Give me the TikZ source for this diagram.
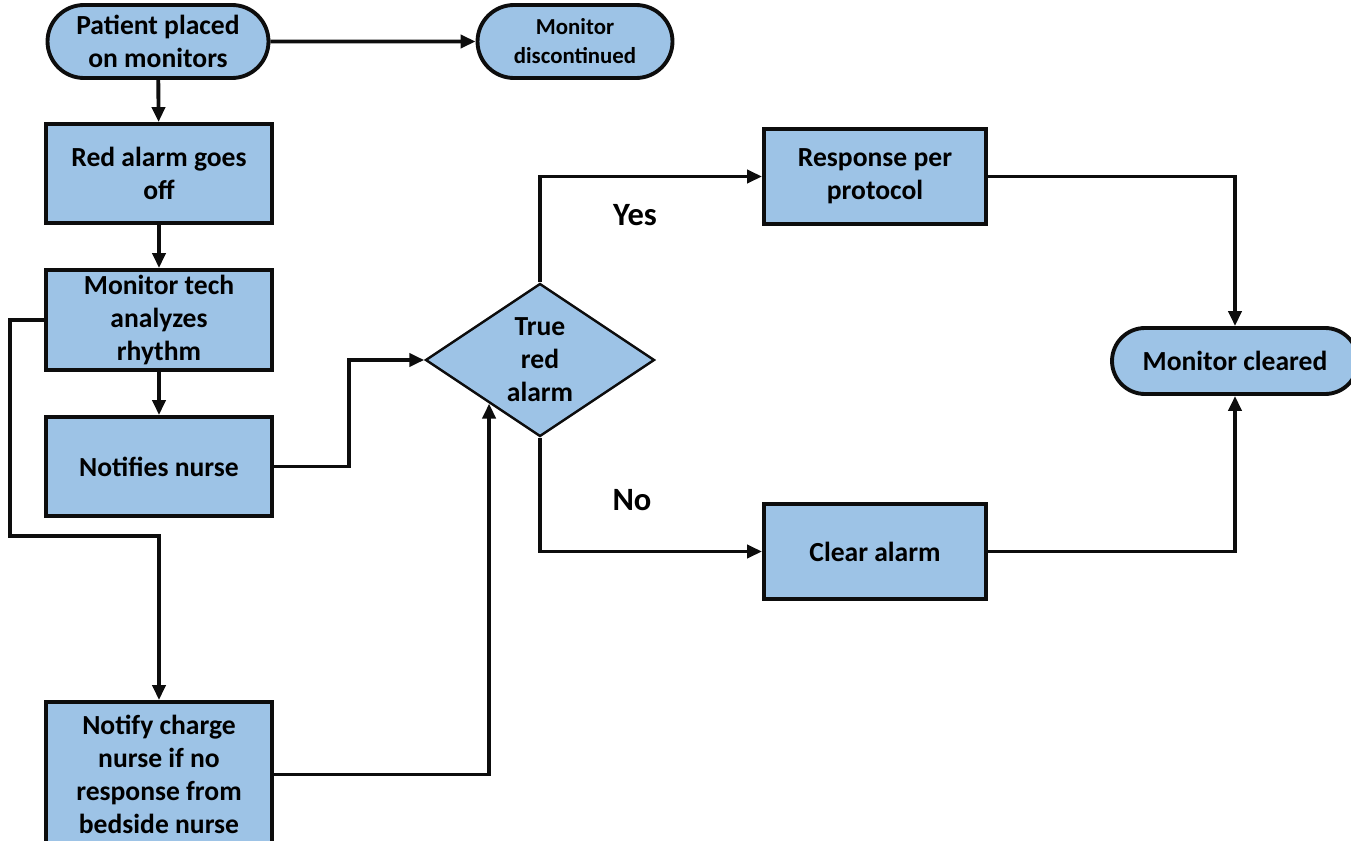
\documentclass[tikz,border=0pt]{standalone}
\usepackage{fontspec}
\setmainfont{Carlito}
\usetikzlibrary{shapes.geometric,shapes.misc,arrows.meta,calc}
\definecolor{boxblue}{HTML}{9DC3E6}
\definecolor{lineblack}{HTML}{0D0D0D}
\tikzset{
  stepbox/.style={draw=lineblack, line width=2.2pt, fill=boxblue, align=center,
    minimum width=4.52cm, minimum height=1.98cm, inner sep=2pt,
    font=\fontsize{15.7}{18.8}\selectfont\bfseries},
  terminal/.style={stepbox, rounded rectangle},
  decision/.style={draw=lineblack, line width=1.4pt, fill=boxblue, diamond, align=center,
    minimum width=4.58cm, minimum height=3.06cm, inner sep=0pt,
    font=\fontsize{15.7}{18.8}\selectfont\bfseries},
  flow/.style={draw=lineblack, line width=2.2pt, -{Triangle[length=0.3cm,width=0.26cm]}},
  answer/.style={font=\fontsize{18.5}{22}\selectfont\bfseries}
}
\begin{document}
\begin{tikzpicture}
        \useasboundingbox (0,0) rectangle (27.02,-16.8);

        % Start and end of monitoring
        \node[terminal, minimum width=4.56cm, minimum height=1.46cm] (start) at (3.16,-0.83) {Patient placed\\on monitors};
        \node[terminal, minimum width=4.04cm, minimum height=1.46cm,
              font=\fontsize{13}{16.5}\selectfont\bfseries] (disc) at (11.5,-0.83) {Monitor\\discontinued};

        % Left column of steps
        \node[stepbox] (red) at (3.18,-3.47) {Red alarm goes\\off};
        \node[stepbox, minimum height=2cm] (tech) at (3.18,-6.4) {Monitor tech\\analyzes\\rhythm};
        \node[stepbox] (notif) at (3.18,-9.33) {Notifies nurse};
        \node[stepbox, minimum height=2.9cm] (charge) at (3.18,-15.49) {Notify charge\\nurse if no\\response from\\bedside nurse};

        % Decision
        \node[decision] (tru) at (10.8,-7.2) {True\\red\\alarm};
        \node[answer] (yes) at (12.7,-4.3) {Yes};
        \node[answer] (no) at (12.64,-10.0) {No};

        % Outcomes
        \node[stepbox, minimum width=4.44cm, minimum height=1.9cm] (resp) at (17.5,-3.53) {Response per\\protocol};
        \node[stepbox, minimum width=4.44cm, minimum height=1.9cm] (clear) at (17.5,-11.03) {Clear alarm};
        \node[terminal, minimum width=5.06cm, minimum height=1.32cm] (cleared) at (24.7,-7.22) {Monitor cleared};

        % Connectors
        \draw[flow] (start) -- (disc);
        \draw[flow] (start) -- (red);
        \draw[flow] (red) -- (tech);
        \draw[flow] (tech) -- (notif);
        \draw[flow] (tech.west) -- (0.2,-6.4) -- (0.2,-10.72) -| (charge.north);
        \draw[flow] (notif.east) -- (6.98,-9.33) |- (tru.west);
        \draw[flow] (charge.east) -| ($(tru.west)!0.56!(tru.south)$);
        \draw[flow] (tru.north) |- (resp.west);
        \draw[flow] (tru.south) |- (clear.west);
        \draw[flow] (resp.east) -| (cleared.north);
        \draw[flow] (clear.east) -| (cleared.south);
\end{tikzpicture}
\end{document}
